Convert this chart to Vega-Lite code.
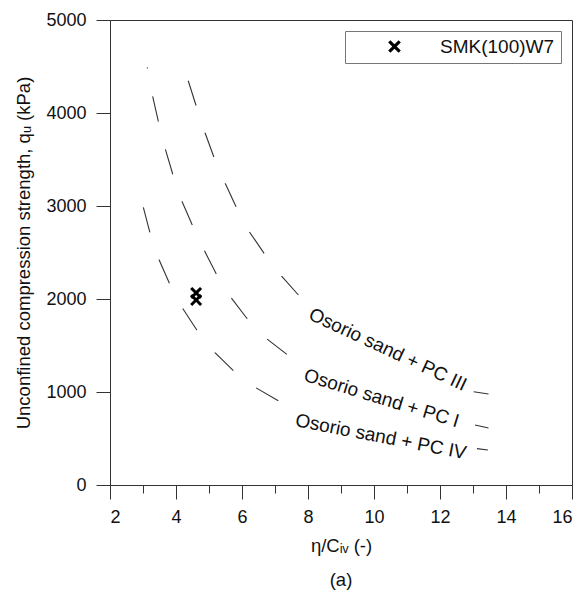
{
  "$schema": "https://vega.github.io/schema/vega-lite/v6.json",
  "autosize": "none",
  "width": 462,
  "height": 465,
  "padding": {"left": 110, "top": 20, "right": 15, "bottom": 116},
  "background": "white",
  "config": {
    "font": "Liberation Sans",
    "view": {"stroke": "#333", "strokeWidth": 1},
    "axis": {
      "grid": false,
      "domainColor": "#333",
      "tickColor": "#333",
      "labelColor": "#111",
      "titleColor": "#111",
      "labelFont": "Liberation Sans",
      "titleFont": "Liberation Sans",
      "labelFontSize": 18,
      "titleFontSize": 18.5,
      "titleFontWeight": "normal"
    }
  },
  "title": {
    "text": "(a)",
    "orient": "bottom",
    "anchor": "middle",
    "fontSize": 18.5,
    "fontWeight": "normal",
    "font": "Liberation Sans",
    "color": "#111",
    "offset": 16
  },
  "datasets": {
    "curves": [
      {"cement": "PC IV", "part": "upper", "k": 1, "ratio": 3.01, "qu": 2986},
      {"cement": "PC IV", "part": "upper", "k": 2, "ratio": 3.21, "qu": 2713},
      {"cement": "PC IV", "part": "upper", "k": 3, "ratio": 3.49, "qu": 2419},
      {"cement": "PC IV", "part": "upper", "k": 4, "ratio": 3.80, "qu": 2169},
      {"cement": "PC IV", "part": "upper", "k": 5, "ratio": 4.20, "qu": 1900},
      {"cement": "PC IV", "part": "upper", "k": 6, "ratio": 4.63, "qu": 1667},
      {"cement": "PC IV", "part": "upper", "k": 7, "ratio": 5.18, "qu": 1423},
      {"cement": "PC IV", "part": "upper", "k": 8, "ratio": 5.74, "qu": 1229},
      {"cement": "PC IV", "part": "upper", "k": 9, "ratio": 6.42, "qu": 1046},
      {"cement": "PC IV", "part": "upper", "k": 10, "ratio": 7.10, "qu": 906},
      {"cement": "PC IV", "part": "lower", "k": 11, "ratio": 13.12, "qu": 391},
      {"cement": "PC IV", "part": "lower", "k": 12, "ratio": 13.45, "qu": 377},
      {"cement": "PC I", "part": "upper", "k": 1, "ratio": 3.13, "qu": 4491},
      {"cement": "PC I", "part": "upper", "k": 2, "ratio": 3.29, "qu": 4183},
      {"cement": "PC I", "part": "upper", "k": 3, "ratio": 3.46, "qu": 3917},
      {"cement": "PC I", "part": "upper", "k": 4, "ratio": 3.67, "qu": 3620},
      {"cement": "PC I", "part": "upper", "k": 5, "ratio": 3.90, "qu": 3344},
      {"cement": "PC I", "part": "upper", "k": 6, "ratio": 4.17, "qu": 3059},
      {"cement": "PC I", "part": "upper", "k": 7, "ratio": 4.48, "qu": 2806},
      {"cement": "PC I", "part": "upper", "k": 8, "ratio": 4.85, "qu": 2527},
      {"cement": "PC I", "part": "upper", "k": 9, "ratio": 5.21, "qu": 2276},
      {"cement": "PC I", "part": "upper", "k": 10, "ratio": 5.66, "qu": 2018},
      {"cement": "PC I", "part": "upper", "k": 11, "ratio": 6.14, "qu": 1796},
      {"cement": "PC I", "part": "upper", "k": 12, "ratio": 6.73, "qu": 1577},
      {"cement": "PC I", "part": "upper", "k": 13, "ratio": 7.36, "qu": 1405},
      {"cement": "PC I", "part": "lower", "k": 14, "ratio": 13.06, "qu": 645},
      {"cement": "PC I", "part": "lower", "k": 15, "ratio": 13.47, "qu": 612},
      {"cement": "PC III", "part": "upper", "k": 1, "ratio": 4.37, "qu": 4347},
      {"cement": "PC III", "part": "upper", "k": 2, "ratio": 4.61, "qu": 4078},
      {"cement": "PC III", "part": "upper", "k": 3, "ratio": 4.88, "qu": 3788},
      {"cement": "PC III", "part": "upper", "k": 4, "ratio": 5.15, "qu": 3524},
      {"cement": "PC III", "part": "upper", "k": 5, "ratio": 5.49, "qu": 3244},
      {"cement": "PC III", "part": "upper", "k": 6, "ratio": 5.82, "qu": 2992},
      {"cement": "PC III", "part": "upper", "k": 7, "ratio": 6.22, "qu": 2724},
      {"cement": "PC III", "part": "upper", "k": 8, "ratio": 6.67, "qu": 2491},
      {"cement": "PC III", "part": "upper", "k": 9, "ratio": 7.20, "qu": 2247},
      {"cement": "PC III", "part": "upper", "k": 10, "ratio": 7.71, "qu": 2043},
      {"cement": "PC III", "part": "lower", "k": 11, "ratio": 13.02, "qu": 1003},
      {"cement": "PC III", "part": "lower", "k": 12, "ratio": 13.47, "qu": 978}
    ],
    "labels": [
      {"cement": "PC III", "text": "Osorio sand + PC III", "ratio": 10.42, "qu": 1457},
      {"cement": "PC I", "text": "Osorio sand + PC I", "ratio": 10.23, "qu": 932},
      {"cement": "PC IV", "text": "Osorio sand + PC IV", "ratio": 10.21, "qu": 519}
    ],
    "tests": [
      {"sample": "SMK(100)W7", "ratio": 4.61, "qu": 2065},
      {"sample": "SMK(100)W7", "ratio": 4.61, "qu": 1989}
    ]
  },
  "encoding": {
    "x": {
      "field": "ratio",
      "type": "quantitative",
      "scale": {"domain": [2, 16], "nice": false, "zero": false},
      "axis": {
        "title": "η/Cᵢᵥ (-)",
        "values": [2, 3, 4, 5, 6, 7, 8, 9, 10, 11, 12, 13, 14, 15, 16],
        "labelExpr": "datum.value % 2 === 0 ? datum.label : ''",
        "labelOverlap": false,
        "tickSize": {"condition": {"test": "datum.value % 2 === 0", "value": 14}, "value": 8},
        "labelPadding": 9,
        "titlePadding": 10
      }
    },
    "y": {
      "field": "qu",
      "type": "quantitative",
      "scale": {"domain": [0, 5000], "nice": false},
      "axis": {
        "title": "Unconfined compression strength, qᵤ (kPa)",
        "values": [0, 1000, 2000, 3000, 4000, 5000],
        "format": "d",
        "tickSize": 14,
        "labelPadding": 10,
        "titlePadding": 12
      }
    }
  },
  "layer": [
    {
      "data": {"name": "curves"},
      "transform": [{"filter": "!(datum.cement === 'PC I' && datum.part === 'upper')"}],
      "mark": {"type": "line", "stroke": "#333", "strokeWidth": 1.1, "strokeDash": [26, 28.5]},
      "encoding": {
        "detail": [{"field": "cement"}, {"field": "part"}],
        "order": {"field": "k", "type": "quantitative"}
      }
    },
    {
      "data": {"name": "curves"},
      "transform": [{"filter": "datum.cement === 'PC I' && datum.part === 'upper'"}],
      "mark": {"type": "line", "stroke": "#333", "strokeWidth": 1.1, "strokeDash": [26, 28.5], "strokeDashOffset": 25},
      "encoding": {
        "order": {"field": "k", "type": "quantitative"}
      }
    },
    {
      "data": {"name": "labels"},
      "transform": [{"filter": "datum.cement === 'PC III'"}],
      "mark": {"type": "text", "angle": 25, "fontSize": 19, "color": "#111", "align": "center", "baseline": "middle"},
      "encoding": {"text": {"field": "text"}}
    },
    {
      "data": {"name": "labels"},
      "transform": [{"filter": "datum.cement === 'PC I'"}],
      "mark": {"type": "text", "angle": 17, "fontSize": 19, "color": "#111", "align": "center", "baseline": "middle"},
      "encoding": {"text": {"field": "text"}}
    },
    {
      "data": {"name": "labels"},
      "transform": [{"filter": "datum.cement === 'PC IV'"}],
      "mark": {"type": "text", "angle": 11, "fontSize": 19, "color": "#111", "align": "center", "baseline": "middle"},
      "encoding": {"text": {"field": "text"}}
    },
    {
      "data": {"name": "tests"},
      "mark": {"type": "point", "filled": true, "color": "#000", "opacity": 1, "size": 144},
      "encoding": {
        "shape": {
          "field": "sample",
          "type": "nominal",
          "scale": {"range": ["M-1,-0.65L-0.65,-1L0,-0.35L0.65,-1L1,-0.65L0.35,0L1,0.65L0.65,1L0,0.35L-0.65,1L-1,0.65L-0.35,0Z"]},
          "legend": {
            "title": null,
            "orient": "top-right",
            "offset": 11,
            "strokeColor": "#777",
            "padding": 6,
            "symbolOffset": 34,
            "symbolSize": 160,
            "symbolFillColor": "#000",
            "symbolStrokeColor": "#000",
            "labelFontSize": 19,
            "labelFont": "Liberation Sans",
            "labelColor": "#111",
            "labelOffset": 36
          }
        }
      }
    }
  ]
}
